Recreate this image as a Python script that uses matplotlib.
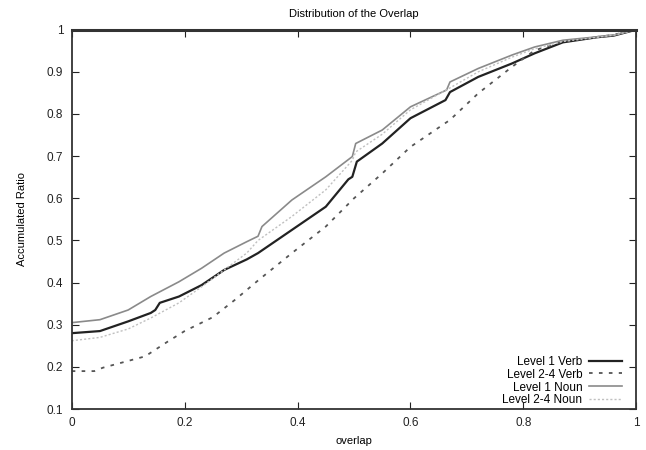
import matplotlib
matplotlib.use("Agg")
import matplotlib.pyplot as plt
from matplotlib.ticker import FuncFormatter

plt.rcParams['font.family'] = ['Liberation Sans', 'DejaVu Sans']

# Level 1 Verb
verb1_x = [0, 0.05, 0.1, 0.14, 0.148, 0.156, 0.19, 0.23, 0.27, 0.31, 0.33, 0.39, 0.45, 0.49,
           0.497, 0.505, 0.55, 0.6, 0.662, 0.67, 0.72, 0.78, 0.82, 0.87, 0.93, 0.96, 1.0]
verb1_y = [0.28, 0.285, 0.308, 0.328, 0.335, 0.352, 0.367, 0.394, 0.43, 0.455, 0.47, 0.525,
           0.58, 0.645, 0.651, 0.687, 0.73, 0.79, 0.833, 0.852, 0.888, 0.92, 0.944, 0.97,
           0.982, 0.986, 1.0]

# Level 2-4 Verb
verb24_x = [0, 0.04, 0.055, 0.13, 0.17, 0.2, 0.25, 0.29, 0.33, 0.39, 0.45, 0.5, 0.55, 0.6,
            0.67, 0.72, 0.78, 0.82, 0.87, 0.93, 0.96, 1.0]
verb24_y = [0.19, 0.19, 0.198, 0.225, 0.26, 0.285, 0.318, 0.36, 0.405, 0.47, 0.533, 0.6,
            0.659, 0.722, 0.786, 0.849, 0.912, 0.951, 0.972, 0.983, 0.988, 1.0]

# Level 1 Noun
noun1_x = [0, 0.05, 0.1, 0.14, 0.19, 0.23, 0.27, 0.31, 0.33, 0.337, 0.39, 0.45, 0.497, 0.503,
           0.55, 0.6, 0.664, 0.67, 0.72, 0.78, 0.82, 0.87, 0.93, 0.96, 1.0]
noun1_y = [0.305, 0.312, 0.335, 0.367, 0.402, 0.434, 0.47, 0.497, 0.51, 0.533, 0.596, 0.651,
           0.699, 0.73, 0.762, 0.817, 0.857, 0.876, 0.908, 0.94, 0.959, 0.975, 0.983, 0.987, 1.0]

# Level 2-4 Noun
noun24_x = [0, 0.05, 0.1, 0.14, 0.19, 0.23, 0.27, 0.31, 0.33, 0.39, 0.45, 0.497, 0.503, 0.55,
            0.6, 0.67, 0.72, 0.78, 0.82, 0.87, 0.93, 0.96, 1.0]
noun24_y = [0.262, 0.27, 0.29, 0.316, 0.352, 0.39, 0.43, 0.47, 0.5, 0.557, 0.62, 0.69, 0.71,
            0.752, 0.81, 0.862, 0.9, 0.935, 0.955, 0.972, 0.982, 0.987, 1.0]

labels = ['Level 1 Verb', 'Level 2-4 Verb', 'Level 1 Noun', 'Level 2-4 Noun']

fig = plt.figure(figsize=(6.46, 4.5), dpi=100)
ax = fig.add_axes([0.111, 0.091, 0.874, 0.843])

ax.plot(verb1_x, verb1_y, color='#222222', lw=1.6, label=labels[0])
ax.plot(verb24_x, verb24_y, color='#555555', lw=1.3, linestyle=(0, (2, 3.5)), label=labels[1])
ax.plot(noun1_x, noun1_y, color='#8a8a8a', lw=1.2, label=labels[2])
ax.plot(noun24_x, noun24_y, color='#c0c0c0', lw=1.0, linestyle=(0, (1.5, 1.5)), label=labels[3])

ax.set_xlim(0, 1)
ax.set_ylim(0.1, 1)
ax.set_xticks([0, 0.2, 0.4, 0.6, 0.8, 1.0])
ax.set_yticks([0.1, 0.2, 0.3, 0.4, 0.5, 0.6, 0.7, 0.8, 0.9, 1.0])
fmt = FuncFormatter(lambda v, p: ('%g' % round(v, 2)))
ax.xaxis.set_major_formatter(fmt)
ax.yaxis.set_major_formatter(fmt)
ax.tick_params(direction='in', top=True, right=True, length=5, width=0.8,
               labelsize=8.5, colors='#222222', pad=6)

for s in ax.spines.values():
    s.set_color('#333333')
    s.set_linewidth(1.3)
ax.spines['top'].set_linewidth(2.2)

ax.set_title('Distribution of the Overlap', fontsize=8, pad=9)
ax.set_xlabel('overlap', fontsize=8, labelpad=5)
ax.set_ylabel('Accumulated Ratio', fontsize=8, labelpad=14)

leg = ax.legend(loc='lower right', bbox_to_anchor=(0.99, -0.015), frameon=False,
                markerfirst=False, fontsize=8.5, handlelength=2.8, handletextpad=0.6,
                labelspacing=0.08, borderaxespad=0.3)
vp = leg._legend_box._children[-1]._children[0]
vp.align = 'right'

fig.savefig('out.png', dpi=100)
